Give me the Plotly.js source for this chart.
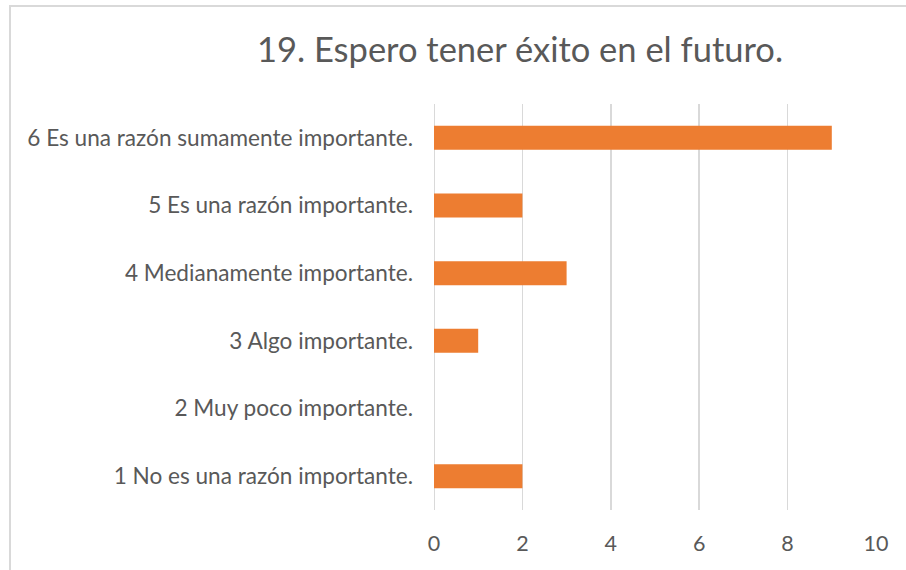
<!DOCTYPE html>
<html><head><meta charset="utf-8">
<script src="https://cdn.plot.ly/plotly-3.0.1.min.js"></script>
<style>
html,body{margin:0;padding:0;background:#fff;}
#wrap{position:relative;width:906px;height:570px;}
#chart{width:906px;height:570px;}
#frame{position:absolute;left:9px;top:5px;width:906px;height:580px;border-top:2px solid #D9D9D9;border-left:2px solid #D9D9D9;pointer-events:none;}
</style></head>
<body><div id="wrap"><div id="chart"></div><div id="frame"></div></div>
<script>
const categories = [
  "1 No es una razón importante.",
  "2 Muy poco importante.",
  "3 Algo importante.",
  "4 Medianamente importante.",
  "5 Es una razón importante.",
  "6 Es una razón sumamente importante."
];
const values = [2, 0, 1, 3, 2, 9];
const xTicks = [0, 2, 4, 6, 8, 10];
const titleText = "19. Espero tener éxito en el futuro.";

const font = "Lato, 'Open Sans', sans-serif";
Plotly.newPlot('chart', [{
  type: 'bar', orientation: 'h',
  y: categories, x: values,
  marker: {color: '#ED7D31'},
  hoverinfo: 'x+y'
}], {
  width: 906, height: 570,
  margin: {l: 434, r: 30, t: 104, b: 60},
  paper_bgcolor: '#fff', plot_bgcolor: '#fff',
  bargap: 0.645,
  showlegend: false,
  title: {text: titleText, x: 0.574, xanchor: 'center', y: 0.912, yanchor: 'middle',
          font: {family: font, size: 34.5, color: '#595959'}},
  shapes: [{type: 'line', xref: 'x', yref: 'paper', x0: xTicks[0], x1: xTicks[0], y0: 0, y1: 1,
            line: {color: '#D9D9D9', width: 2}, layer: 'below'}],
  xaxis: {range: [0, 10], tickvals: xTicks, showgrid: true, gridcolor: '#D9D9D9', gridwidth: 1.5,
          zeroline: false, showline: false, ticklabelstandoff: 18,
          tickfont: {family: font, size: 21.5, color: '#595959'}, fixedrange: true},
  yaxis: {type: 'category', categoryorder: 'array', categoryarray: categories,
          showgrid: false, zeroline: false, showline: false, ticklabelstandoff: 20,
          tickfont: {family: font, size: 22.6, color: '#595959'}, fixedrange: true}
}, {displayModeBar: false, staticPlot: true});
</script></body></html>
